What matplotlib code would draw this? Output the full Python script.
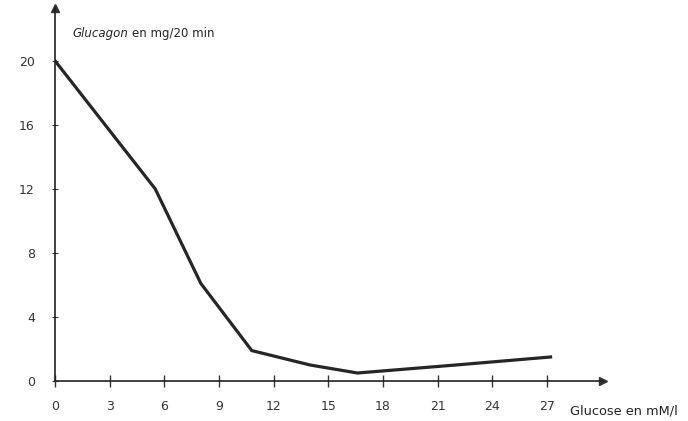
import matplotlib.pyplot as plt

glucose = [0, 5.5, 8, 10.8, 14, 16.6, 22, 27.2]
glucagon = [20, 12, 6.1, 1.9, 1.0, 0.5, 1.0, 1.5]
x_ticks = [0, 3, 6, 9, 12, 15, 18, 21, 24, 27]
y_ticks = [0, 4, 8, 12, 16, 20]

fig = plt.figure(figsize=(6.88, 4.21), dpi=100)
ax = fig.add_axes([0.080, 0.095, 0.797, 0.886])

ax.plot(glucose, glucagon, color='#262626', linewidth=2.3, solid_joinstyle='miter')

ax.set_xlim(0, 30.1)
ax.set_ylim(0, 23.3)
ax.spines['top'].set_visible(False)
ax.spines['right'].set_visible(False)
for s in ('left', 'bottom'):
    ax.spines[s].set_linewidth(1.2)
    ax.spines[s].set_color('#222222')

# arrow heads on the axes
ax.plot(1, 0, '>', color='#333333', markersize=6, transform=ax.transAxes, clip_on=False)
ax.plot(0, 1, '^', color='#333333', markersize=6, transform=ax.transAxes, clip_on=False)

ax.set_xticks(x_ticks)
ax.set_yticks(y_ticks)
ax.tick_params(axis='x', direction='inout', length=9, width=1.0, pad=9,
               labelsize=9, labelcolor='#333333', color='#333333')
ax.tick_params(axis='y', direction='inout', length=5, width=0.8, pad=12,
               labelsize=9, labelcolor='#333333', color='#333333')

t1 = fig.text(0.105, 0.913, 'Glucagon', fontsize=8.5, style='italic', color='#222222')
ax.annotate('en mg/20 min', xy=(1, 0), xycoords=t1, xytext=(3, 0),
            textcoords='offset points', va='bottom', fontsize=8.5, color='#222222')
fig.text(0.828, 0.016, 'Glucose en mM/l', fontsize=9.3, color='#222222')

fig.savefig('out.png', dpi=100, facecolor='white')
